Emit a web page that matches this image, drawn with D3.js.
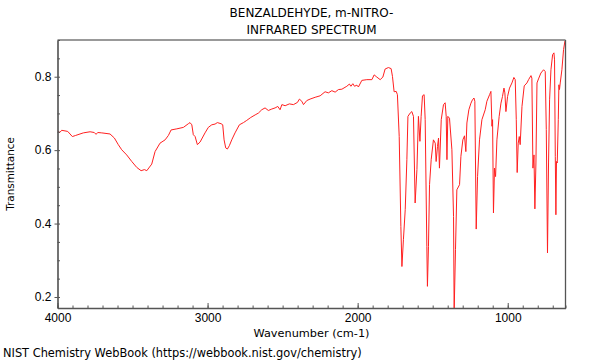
<!DOCTYPE html>
<html>
<head>
<meta charset="utf-8">
<script src="https://cdn.jsdelivr.net/npm/d3@7"></script>
<style>
  body { margin: 0; background: #fff; }
  svg { font-family: "DejaVu Sans", sans-serif; }
</style>
</head>
<body>
<div id="chart"></div>
<script>
// wavenumber (cm-1) and transmittance
const wavenumbers = [
  3999, 3985, 3972, 3932, 3901, 3879, 3850, 3828, 3783, 3755, 3743, 3732, 3705, 3650, 3621, 3595,
  3572, 3539, 3505, 3472, 3443, 3421, 3405, 3372, 3350, 3317, 3283, 3261, 3243, 3205, 3161, 3128,
  3117, 3105, 3095, 3083, 3068, 3050, 3017, 2995, 2972, 2950, 2935, 2910, 2899, 2890, 2879, 2868,
  2855, 2839, 2817, 2788, 2761, 2739, 2712, 2683, 2661, 2639, 2617, 2595, 2572, 2550, 2532, 2517,
  2505, 2483, 2455, 2428, 2401, 2388, 2372, 2361, 2339, 2317, 2283, 2250, 2217, 2195, 2172, 2150,
  2128, 2105, 2072, 2055, 2045, 2032, 2021, 2005, 1995, 1972, 1939, 1905, 1890, 1872, 1850, 1832,
  1817, 1795, 1777, 1768, 1757, 1743, 1735, 1723, 1712, 1705, 1695, 1683, 1672, 1665, 1650, 1639,
  1628, 1617, 1605, 1595, 1585, 1577, 1568, 1557, 1550, 1539, 1535, 1528, 1521, 1510, 1495, 1483,
  1477, 1468, 1461, 1455, 1443, 1428, 1417, 1410, 1405, 1399, 1388, 1372, 1361, 1357, 1348, 1339,
  1321, 1312, 1299, 1288, 1279, 1272, 1259, 1245, 1235, 1225, 1219, 1210, 1201, 1188, 1172, 1150,
  1139, 1121, 1112, 1105, 1101, 1095, 1088, 1081, 1072, 1057, 1045, 1035, 1025, 1019, 1012, 1001,
  988, 972, 959, 950, 943, 937, 930, 923, 917, 905, 890, 872, 861, 845, 839, 832,
  825, 819, 812, 805, 795, 779, 761, 750, 743, 735, 728, 721, 712, 701, 692, 688,
  683, 679, 675, 670, 663, 659, 655, 650, 639, 628, 617
];
const transmittance = [
  0.653, 0.648, 0.654, 0.651, 0.637, 0.640, 0.644, 0.647, 0.650, 0.648, 0.643, 0.648, 0.647, 0.644, 0.633, 0.615,
  0.601, 0.587, 0.569, 0.553, 0.544, 0.547, 0.544, 0.562, 0.596, 0.619, 0.628, 0.640, 0.655, 0.658, 0.662, 0.672,
  0.675, 0.669, 0.642, 0.637, 0.615, 0.622, 0.647, 0.662, 0.669, 0.671, 0.675, 0.672, 0.669, 0.628, 0.606, 0.603,
  0.612, 0.628, 0.647, 0.669, 0.675, 0.681, 0.689, 0.696, 0.701, 0.710, 0.715, 0.708, 0.712, 0.715, 0.719, 0.710,
  0.724, 0.721, 0.726, 0.724, 0.730, 0.739, 0.733, 0.724, 0.735, 0.739, 0.744, 0.748, 0.759, 0.756, 0.762, 0.758,
  0.765, 0.766, 0.774, 0.780, 0.774, 0.781, 0.774, 0.777, 0.772, 0.790, 0.792, 0.792, 0.805, 0.799, 0.792, 0.799,
  0.821, 0.825, 0.822, 0.801, 0.759, 0.760, 0.751, 0.637, 0.392, 0.283, 0.356, 0.438, 0.574, 0.692, 0.701, 0.705,
  0.692, 0.456, 0.547, 0.692, 0.624, 0.692, 0.748, 0.751, 0.683, 0.338, 0.229, 0.338, 0.506, 0.574, 0.628, 0.619,
  0.569, 0.610, 0.633, 0.551, 0.683, 0.724, 0.729, 0.692, 0.574, 0.692, 0.687, 0.601, 0.419, 0.160, 0.329, 0.492,
  0.506, 0.583, 0.628, 0.639, 0.596, 0.674, 0.710, 0.728, 0.737, 0.742, 0.733, 0.385, 0.528, 0.628, 0.683, 0.710,
  0.733, 0.751, 0.760, 0.665, 0.683, 0.429, 0.551, 0.528, 0.628, 0.692, 0.728, 0.746, 0.769, 0.756, 0.705, 0.746,
  0.769, 0.783, 0.798, 0.792, 0.683, 0.539, 0.619, 0.637, 0.615, 0.719, 0.775, 0.783, 0.792, 0.803, 0.796, 0.551,
  0.587, 0.440, 0.565, 0.783, 0.794, 0.810, 0.819, 0.814, 0.656, 0.320, 0.565, 0.737, 0.819, 0.860, 0.865, 0.846,
  0.583, 0.424, 0.569, 0.565, 0.683, 0.778, 0.765, 0.783, 0.819, 0.874, 0.901
];
const xMajorTicks = [4000, 3000, 2000, 1000];
const yMajorTicks = [0.2, 0.4, 0.6, 0.8];
const titleLines = ["BENZALDEHYDE, m-NITRO-", "INFRARED SPECTRUM"];

const width = 600, height = 360;
const margin = { top: 40, right: 34.5, bottom: 52, left: 57.5 };

const svg = d3.select("#chart").append("svg")
  .attr("width", width)
  .attr("height", height);

const x = d3.scaleLinear().domain([4000, 615]).range([margin.left, width - margin.right]);
const y = d3.scaleLinear().domain([0.17, 0.9]).range([height - margin.bottom, margin.top]);

const xMinor = d3.range(4000, 614, -100);
const yMinor = d3.range(0.2, 0.9, 0.05).map(v => +v.toFixed(2));

// spectrum, clipped to the plot box
svg.append("clipPath").attr("id", "plot-clip")
  .append("rect")
  .attr("x", x.range()[0]).attr("y", y.range()[1])
  .attr("width", x.range()[1] - x.range()[0])
  .attr("height", y.range()[0] - y.range()[1]);

const points = wavenumbers.map((w, i) => [w, transmittance[i]]);
const line = d3.line().x(d => x(d[0])).y(d => y(d[1]));

svg.append("path")
  .datum(points)
  .attr("clip-path", "url(#plot-clip)")
  .attr("fill", "none")
  .attr("stroke", "#ff2020")
  .attr("stroke-width", 1)
  .attr("stroke-linejoin", "round")
  .attr("d", line);

// frame
svg.append("line")
  .attr("x1", x.range()[0]).attr("x2", x.range()[1])
  .attr("y1", y.range()[1]).attr("y2", y.range()[1])
  .attr("stroke", "#999").attr("stroke-width", 2);
svg.append("line")
  .attr("x1", x.range()[1]).attr("x2", x.range()[1])
  .attr("y1", y.range()[1]).attr("y2", y.range()[0])
  .attr("stroke", "#555").attr("stroke-width", 1.3);

// bottom axis: ticks pointing inward, labels below
svg.append("g")
  .attr("transform", `translate(0,${y.range()[0]})`)
  .call(d3.axisBottom(x).tickValues(xMinor).tickSize(-2.5).tickFormat(""))
  .call(g => g.selectAll("line, path").attr("stroke", "#555"));
svg.append("g")
  .attr("transform", `translate(0,${y.range()[0]})`)
  .call(d3.axisBottom(x).tickValues(xMajorTicks).tickSizeInner(-5).tickSizeOuter(0).tickPadding(5).tickFormat(d3.format("d")))
  .call(g => g.select(".domain").attr("stroke", "#555").attr("stroke-width", 1.3))
  .call(g => g.selectAll(".tick line").attr("stroke", "#555"))
  .call(g => g.selectAll("text").attr("font-size", 12).attr("fill", "#000"));

// left axis: minor ticks inside, major ticks crossing the line
svg.append("g")
  .attr("transform", `translate(${x.range()[0]},0)`)
  .call(d3.axisLeft(y).tickValues(yMinor).tickSize(-2.5).tickFormat(""))
  .call(g => g.selectAll("line, path").attr("stroke", "#555"));
svg.append("g")
  .attr("transform", `translate(${x.range()[0]},0)`)
  .call(d3.axisLeft(y).tickValues(yMajorTicks).tickSizeInner(3).tickSizeOuter(0).tickPadding(3).tickFormat(d3.format(".1f")))
  .call(g => g.select(".domain").attr("stroke", "#555").attr("stroke-width", 1.3))
  .call(g => g.selectAll(".tick line").attr("stroke", "#555"))
  .call(g => g.selectAll("text").attr("font-size", 12).attr("fill", "#000"));

// texts
const cx = (x.range()[0] + x.range()[1]) / 2;
svg.selectAll(".title")
  .data(titleLines)
  .join("text")
  .attr("class", "title")
  .attr("x", cx)
  .attr("y", (d, i) => 17 + i * 17)
  .attr("text-anchor", "middle")
  .attr("font-size", 12)
  .text(d => d);

svg.append("text")
  .attr("x", cx).attr("y", 337)
  .attr("text-anchor", "middle")
  .attr("font-size", 11.3)
  .text("Wavenumber (cm-1)");

svg.append("text")
  .attr("transform", `translate(14,${(y.range()[0] + y.range()[1]) / 2}) rotate(-90)`)
  .attr("text-anchor", "middle")
  .attr("font-size", 10.4)
  .text("Transmittance");

svg.append("text")
  .attr("x", 3).attr("y", 357)
  .attr("font-size", 11.4)
  .text("NIST Chemistry WebBook (https://webbook.nist.gov/chemistry)");
</script>
</body>
</html>
